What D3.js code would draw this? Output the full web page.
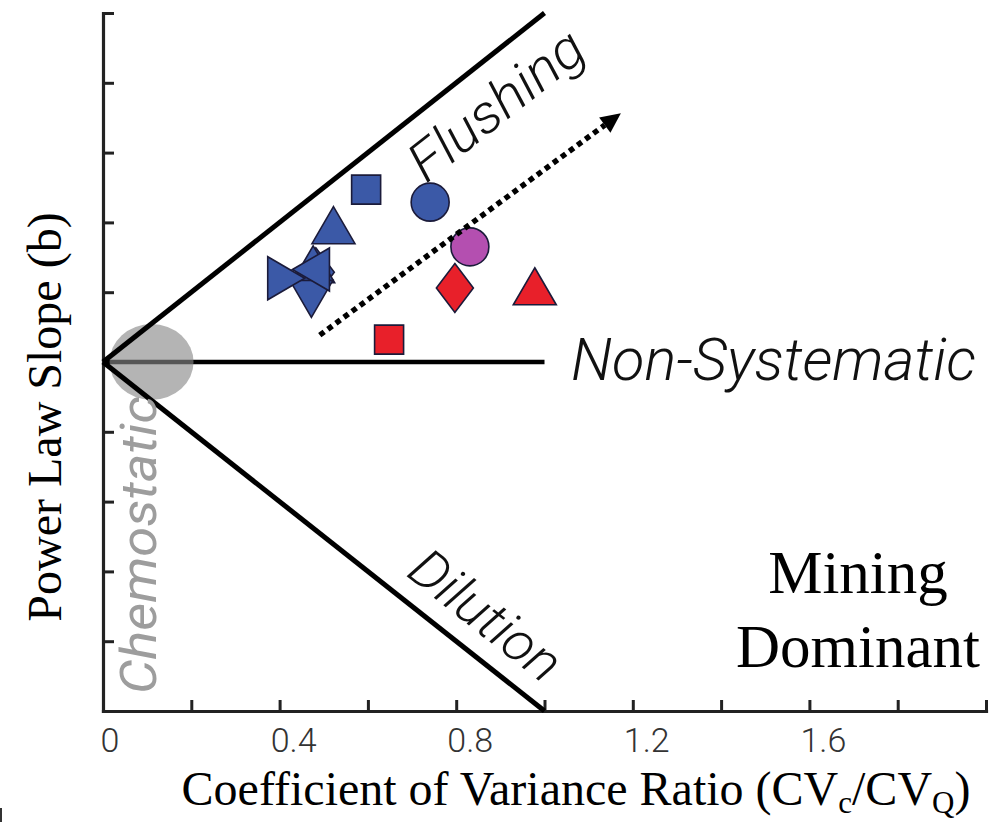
<!DOCTYPE html>
<html>
<head>
<meta charset="utf-8">
<script src="https://cdn.jsdelivr.net/npm/d3@7"></script>
<style>
  html, body { margin: 0; padding: 0; background: #fff; }
  svg { display: block; }
</style>
</head>
<body>
<svg id="chart" width="1005" height="822"></svg>
<script>
// ---- data ----
// axis ticks
const xTickValues = [0, 0.2, 0.4, 0.6, 0.8, 1.0, 1.2, 1.4, 1.6, 1.8, 2.0];
const xLabelValues = [0, 0.4, 0.8, 1.2, 1.6];
const xLabels = ["0", "0.4", "0.8", "1.2", "1.6"];
const yTickValues = [-1, -0.8, -0.6, -0.4, -0.2, 0, 0.2, 0.4, 0.6, 0.8, 1.0];

// regime boundary lines (CV ratio, slope b)
const flushingLine = [[0, 0], [1, 1]];
const nonSystematicLine = [[0, 0], [1, 0]];
const dilutionLine = [[0, 0], [1, -1]];

// observations: CV ratio, power-law slope, marker shape, group
const obsCV    = [0.482, 0.476, 0.472, 0.471, 0.415, 0.522, 0.596, 0.741, 0.831, 0.797, 0.978, 0.648];
const obsSlope = [0.257, 0.280, 0.181, 0.265, 0.240, 0.392, 0.494, 0.458, 0.330, 0.212, 0.217, 0.064];
const obsShape = ["diamond", "triUp", "triDown", "triLeft", "triRight", "triUp", "square", "circle", "circle", "diamond", "triUp", "square"];
const obsGroup = ["blue", "blue", "blue", "blue", "blue", "blue", "blue", "blue", "magenta", "red", "red", "red"];

// trend arrow (start, end)
const trendArrow = [[0.491, 0.077], [1.173, 0.713]];

// ---- layout ----
const svg = d3.select("#chart");
const x = d3.scaleLinear().domain([0, 2]).range([103, 986]);
const y = d3.scaleLinear().domain([-1, 1]).range([711, 13]);
const color = d3.scaleOrdinal()
  .domain(["blue", "magenta", "red"])
  .range(["#3b59a7", "#b44fb0", "#e8202a"]);

const sans = "'Roboto', 'Liberation Sans', sans-serif";
const serif = "'Liberation Serif', 'Times New Roman', serif";

// ---- axes ----
const xAxis = d3.axisBottom(x).tickValues(xTickValues).tickSize(-11).tickSizeOuter(0).tickFormat("");
const yAxis = d3.axisLeft(y).tickValues(yTickValues).tickSize(-11).tickSizeOuter(0).tickFormat("");

const gx = svg.append("g").attr("transform", `translate(0,${y(-1)})`).call(xAxis);
const gy = svg.append("g").attr("transform", `translate(${x(0)},0)`).call(yAxis);
[gx, gy].forEach(g => {
  g.select(".domain").attr("stroke", "#222").attr("stroke-width", 3.2).attr("stroke-linecap", "square");
  g.selectAll(".tick line").attr("stroke", "#222").attr("stroke-width", 3);
});

svg.append("g").selectAll("text")
  .data(xLabelValues)
  .join("text")
  .attr("x", (d) => x(d) + (d === 0 ? 7 : 14))
  .attr("y", 752)
  .attr("text-anchor", "middle")
  .attr("font-family", sans)
  .attr("font-weight", 300)
  .attr("font-size", 34)
  .attr("fill", "#333")
  .text((d, i) => xLabels[i]);

// ---- regime lines ----
const line = d3.line().x(d => x(d[0])).y(d => y(d[1]));

svg.append("path").datum(nonSystematicLine)
  .attr("d", line).attr("stroke", "#000").attr("stroke-width", 4.5).attr("fill", "none");

// chemostatic zone near the origin
svg.append("ellipse")
  .attr("cx", x(0.11)).attr("cy", y(0))
  .attr("rx", 42).attr("ry", 38)
  .attr("fill", "#888").attr("fill-opacity", 0.63);

[flushingLine, dilutionLine].forEach(seg => {
  svg.append("path").datum(seg)
    .attr("d", line).attr("stroke", "#000").attr("stroke-width", 5).attr("fill", "none");
});

// ---- regime labels ----
const angle = Math.atan2(y(0) - y(1), x(1) - x(0)) * 180 / Math.PI;

svg.append("text")
  .attr("transform", `translate(426,184) rotate(${-angle})`)
  .attr("font-family", sans).attr("font-weight", 300).attr("font-style", "italic")
  .attr("font-size", 54).attr("fill", "#111")
  .attr("textLength", 208).attr("lengthAdjust", "spacingAndGlyphs")
  .text("Flushing");

svg.append("text")
  .attr("x", 571).attr("y", 380)
  .attr("font-family", sans).attr("font-weight", 300).attr("font-style", "italic")
  .attr("font-size", 60).attr("fill", "#111")
  .attr("textLength", 405).attr("lengthAdjust", "spacingAndGlyphs")
  .text("Non-Systematic");

svg.append("text")
  .attr("transform", `translate(405,575) rotate(${angle})`)
  .attr("font-family", sans).attr("font-weight", 300).attr("font-style", "italic")
  .attr("font-size", 54).attr("fill", "#111")
  .attr("textLength", 177).attr("lengthAdjust", "spacingAndGlyphs")
  .text("Dilution");

svg.append("text")
  .attr("transform", "translate(156,694) rotate(-90)")
  .attr("font-family", sans).attr("font-style", "italic")
  .attr("font-size", 50).attr("fill", "#9d9d9d")
  .attr("textLength", 298).attr("lengthAdjust", "spacingAndGlyphs")
  .text("Chemostatic");

// ---- markers ----
function markerPath(shape) {
  const p = d3.path();
  switch (shape) {
    case "square": { const s = 14.5; p.rect(-s, -s, 2 * s, 2 * s); break; }
    case "circle": { p.arc(0, 0, 19, 0, 2 * Math.PI); p.closePath(); break; }
    case "diamond": { p.moveTo(0, -24.5); p.lineTo(18.5, 0); p.lineTo(0, 24.5); p.lineTo(-18.5, 0); p.closePath(); break; }
    case "triUp": { p.moveTo(0, -18.5); p.lineTo(21.5, 18.5); p.lineTo(-21.5, 18.5); p.closePath(); break; }
    case "triDown": { p.moveTo(0, 18.5); p.lineTo(21.5, -18.5); p.lineTo(-21.5, -18.5); p.closePath(); break; }
    case "triLeft": { p.moveTo(-18.5, 0); p.lineTo(18.5, -21.5); p.lineTo(18.5, 21.5); p.closePath(); break; }
    case "triRight": { p.moveTo(18.5, 0); p.lineTo(-18.5, -21.5); p.lineTo(-18.5, 21.5); p.closePath(); break; }
  }
  return p.toString();
}

svg.append("g").selectAll("path")
  .data(d3.range(obsCV.length))
  .join("path")
  .attr("transform", i => `translate(${x(obsCV[i])},${y(obsSlope[i])})`)
  .attr("d", i => markerPath(obsShape[i]))
  .attr("fill", i => color(obsGroup[i]))
  .attr("stroke", "#1b1b3a")
  .attr("stroke-width", 1.6)
  .attr("stroke-linejoin", "miter");

// ---- trend arrow ----
const ax0 = x(trendArrow[0][0]), ay0 = y(trendArrow[0][1]);
const ax1 = x(trendArrow[1][0]), ay1 = y(trendArrow[1][1]);
const ang = Math.atan2(ay1 - ay0, ax1 - ax0);
const headLen = 20, headHalf = 9.5;
const bx = ax1 - headLen * Math.cos(ang), by = ay1 - headLen * Math.sin(ang);

svg.append("line")
  .attr("x1", ax0).attr("y1", ay0).attr("x2", bx).attr("y2", by)
  .attr("stroke", "#000").attr("stroke-width", 5.5)
  .attr("stroke-dasharray", "5.5 4.5");

svg.append("path")
  .attr("d", `M${ax1},${ay1}L${bx + headHalf * Math.sin(ang)},${by - headHalf * Math.cos(ang)}L${bx - headHalf * Math.sin(ang)},${by + headHalf * Math.cos(ang)}Z`)
  .attr("fill", "#000");

// ---- axis titles and annotation ----
svg.append("text")
  .attr("transform", "translate(61,417) rotate(-90)")
  .attr("text-anchor", "middle")
  .attr("font-family", serif).attr("font-size", 48).attr("fill", "#000")
  .text("Power Law Slope (b)");

const xt = svg.append("text")
  .attr("x", 576).attr("y", 805)
  .attr("text-anchor", "middle")
  .attr("font-family", serif).attr("font-size", 48).attr("fill", "#000");
xt.append("tspan").text("Coefficient of Variance Ratio (CV");
xt.append("tspan").attr("font-size", 31).attr("dy", 8).text("c");
xt.append("tspan").attr("dy", -8).text("/CV");
xt.append("tspan").attr("font-size", 31).attr("dy", 8).text("Q");
xt.append("tspan").attr("dy", -8).text(")");

const md = svg.append("text")
  .attr("text-anchor", "middle")
  .attr("font-family", serif).attr("font-size", 61).attr("fill", "#000");
md.append("tspan").attr("x", 858).attr("y", 593).text("Mining");
md.append("tspan").attr("x", 858).attr("y", 667).text("Dominant");

// small edge mark at lower left
svg.append("line")
  .attr("x1", 1).attr("y1", 808).attr("x2", 1).attr("y2", 822)
  .attr("stroke", "#333").attr("stroke-width", 2);
</script>
</body>
</html>
